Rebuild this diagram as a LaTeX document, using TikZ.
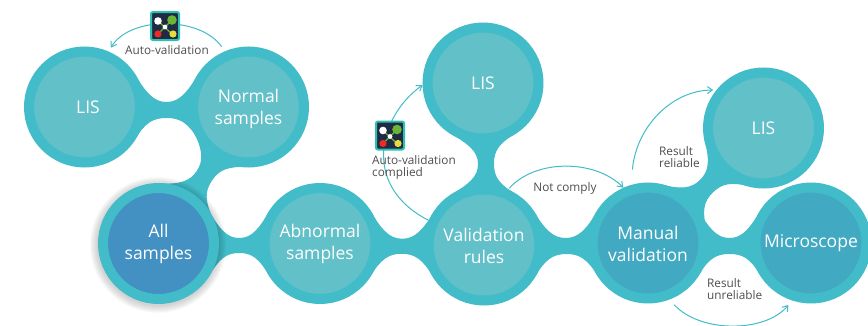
\documentclass[tikz,border=0pt]{standalone}
\usepackage{fontspec}
\setmainfont{Open Sans}
\usetikzlibrary{calc,arrows.meta,backgrounds}
\definecolor{rimteal}{HTML}{41BCC8}
\definecolor{softteal}{HTML}{62C0C8}
\definecolor{deepteal}{HTML}{41A9C2}
\definecolor{allblue}{HTML}{4390C2}
\definecolor{labelgray}{HTML}{4D4D4D}
\definecolor{iconnavy}{HTML}{1F2A44}
\definecolor{iconrim}{HTML}{2DBFB0}
\definecolor{icongreen}{HTML}{6AB535}
\definecolor{iconred}{HTML}{EE2A24}
\definecolor{iconyellow}{HTML}{E8DC3A}
\tikzset{
  bubble/.style={circle,minimum size=111pt,inner sep=0pt,line width=10pt,draw=rimteal,
    text=white,align=center,font=\fontsize{17.5}{22}\selectfont},
  softbubble/.style={bubble,fill=softteal},
  deepbubble/.style={bubble,fill=deepteal},
  allbubble/.style={bubble,fill=allblue},
  flowline/.style={draw=rimteal,line width=1pt},
  flowarrow/.style={flowline,-{Straight Barb[length=5pt,width=7pt]}},
  smalltext/.style={text=labelgray,font=\fontsize{11.8}{12}\selectfont,align=left,inner sep=0pt},
  valicon/.pic={
    \draw[iconrim,fill=iconnavy,line width=2pt,rounded corners=2pt] (-14,-14) rectangle (14,14);
    \draw[icongreen,line width=1.2pt] (-7,5) -- (7,-8) (7,6) -- (-7,-8);
    \fill[white] (-7,5) circle (3.8);
    \fill[icongreen] (7,6) circle (4.8);
    \fill[iconred] (-7,-8) circle (3.6);
    \fill[iconyellow] (8,-8) circle (3.6);
    \fill[white] (0,-1) circle (2.4);
  }
}
% #3: half width of the waist on the left of a->b, #4: on its right
\newcommand{\neckjoin}[4]{%
  \fill[rimteal]
    ($(#1.center)!60pt!32:(#2.center)$)
    .. controls ($(#1.center)!63pt!14:(#2.center)$) and ($ ($(#1.center)!0.42!(#2.center)$)!#3pt!90:(#2.center) $)
    .. ($ ($(#1.center)!0.5!(#2.center)$)!#3pt!90:(#2.center) $)
    .. controls ($ ($(#1.center)!0.58!(#2.center)$)!#3pt!90:(#2.center) $) and ($(#2.center)!63pt!-14:(#1.center)$)
    .. ($(#2.center)!60pt!-32:(#1.center)$)
    -- ($(#2.center)!60pt!32:(#1.center)$)
    .. controls ($(#2.center)!63pt!14:(#1.center)$) and ($ ($(#1.center)!0.58!(#2.center)$)!#4pt!-90:(#2.center) $)
    .. ($ ($(#1.center)!0.5!(#2.center)$)!#4pt!-90:(#2.center) $)
    .. controls ($ ($(#1.center)!0.42!(#2.center)$)!#4pt!-90:(#2.center) $) and ($(#1.center)!63pt!-14:(#2.center)$)
    .. ($(#1.center)!60pt!-32:(#2.center)$)
    -- cycle;
}
\begin{document}
\begin{tikzpicture}[x=1pt,y=1pt]
\useasboundingbox (0,0) rectangle (868,325);
\begin{scope}
\clip (0,0) rectangle (868,325);
\node[softbubble] (lisA) at (84.5,218) {\hspace*{7pt}LIS};
\node[softbubble] (norm) at (248.5,218) {\rule{0pt}{18pt}Normal\\samples};
\node[allbubble]  (all)  at (158.5,81.5) {All\\samples};
\node[softbubble] (abn)  at (320,81.5) {\rule{0pt}{15pt}Abnormal\\samples};
\node[softbubble] (val)  at (484,80) {\rule{0pt}{16pt}Validation\\rules};
\node[softbubble] (lisB) at (483,242) {LIS};
\node[deepbubble] (man)  at (648,82) {\rule{0pt}{15pt}Manual\\validation};
\node[deepbubble] (micro) at (811,82) {Microscope};
\node[softbubble] (lisC) at (763.5,197) {LIS};
\begin{pgfonlayer}{background}
  \neckjoin{lisA}{norm}{5}{11}
  \neckjoin{all}{norm}{8}{10}
  \neckjoin{all}{abn}{5.5}{9.5}
  \neckjoin{abn}{val}{5.5}{9.5}
  \neckjoin{val}{lisB}{5.5}{10.5}
  \neckjoin{val}{man}{6}{10}
  \neckjoin{man}{micro}{5}{11}
  \neckjoin{man}{lisC}{8}{10}
  \foreach \rr in {61,62,...,68}{
    \fill[black,opacity=0.025] ([shift={(-0.5,-1.5)}]all.center) circle (\rr);
  }
  \draw[flowarrow] ([shift=(114:66)]norm.center) .. controls (200,309) and (130,309) .. ([shift=(66:65)]lisA.center);
  \draw[flowarrow] ([shift=(156:61)]val.center) .. controls (360,140) and (380,210) .. ([shift=(182:60.5)]lisB.center);
  \draw[flowarrow] ([shift=(66:62)]val.center) .. controls (535,166) and (595,166) .. ([shift=(114:60.5)]man.center);
  \draw[flowarrow] ([shift=(102:75)]man.center) .. controls (636,198) and (672,235) .. ([shift=(143:63)]lisC.center);
  \draw[flowarrow] ([shift=(293:67)]man.center) .. controls (700,-8) and (765,-8) .. ([shift=(250:66)]micro.center);
\end{pgfonlayer}
\pic at (165,299) {valicon};
\pic at (390,189.5) {valicon};
\node[smalltext,anchor=center] (tA) at (167,275) {Auto-validation};
\node[smalltext,anchor=west] (tB) at (372,158) {Auto-validation\\complied};
\node[smalltext,anchor=center] (tC) at (565,137) {Not comply};
\node[smalltext,anchor=west] (tD) at (659,168) {Result\\reliable};
\node[smalltext,anchor=west] (tE) at (707,36) {Result\\unreliable};
\end{scope}
\end{tikzpicture}
\end{document}
